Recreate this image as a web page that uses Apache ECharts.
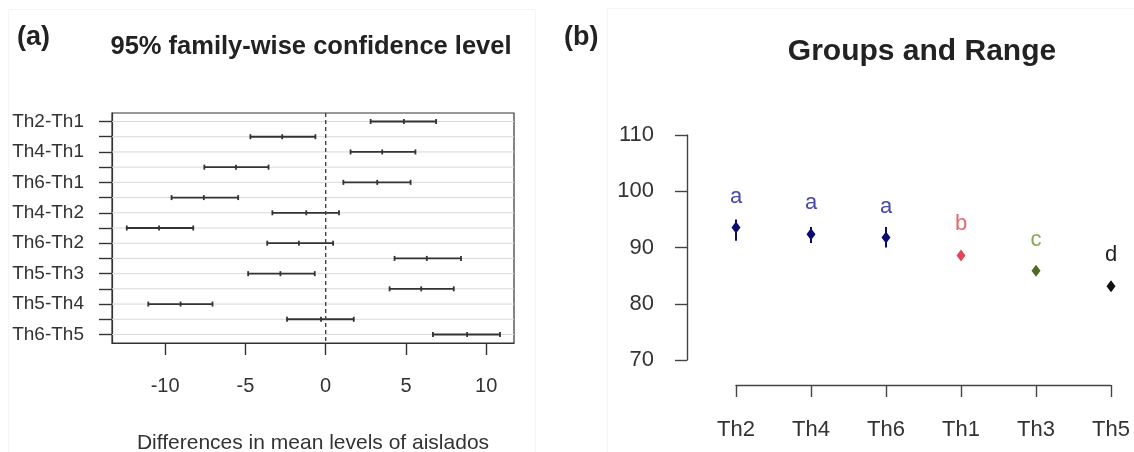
<!DOCTYPE html>
<html><head><meta charset="utf-8">
<script src="https://cdn.jsdelivr.net/npm/echarts@6/dist/echarts.min.js"></script>
<style>html,body{margin:0;padding:0;background:#fff}#c{width:1134px;height:452px}</style>
</head><body><div id="c"></div>
<script>
// ---- Panel (a): Tukey HSD 95% family-wise intervals ----
const comparisons = ['Th2-Th1','Th3-Th1','Th4-Th1','Th5-Th1','Th6-Th1','Th3-Th2','Th4-Th2','Th5-Th2','Th6-Th2','Th4-Th3','Th5-Th3','Th6-Th3','Th5-Th4','Th6-Th4','Th6-Th5'];
const diffLwr  = [2.80, -4.69, 1.55, -7.56, 1.10, -9.60, -3.32, -12.39, -3.64, 4.29, -4.83, 3.98, -11.05, -2.41, 6.68];
const diffMean = [4.87, -2.71, 3.52, -5.59, 3.21, -7.59, -1.21, -10.38, -1.67, 6.30, -2.82, 5.95, -9.04, -0.29, 8.81];
const diffUpr  = [6.88, -0.64, 5.59, -3.56, 5.29, -5.45, 0.83, -8.25, 0.46, 8.43, -0.68, 7.98, -7.05, 1.75, 10.86];
const diffTicks = [-10, -5, 0, 5, 10];
const zeroLine = [0];

// ---- Panel (b): Groups and Range ----
const groups = ['Th2','Th4','Th6','Th1','Th3','Th5'];
const groupMean = [93.55, 92.36, 91.78, 88.6, 85.85, 83.1];
const groupLow  = [91.2, 90.82, 90.0, 88.2, 85.4, 82.8];
const groupHigh = [95.0, 93.66, 93.66, 89.0, 86.3, 83.4];
const groupLetters = ['a','a','a','b','c','d'];
const rangeTicks = [70, 80, 90, 100, 110];

// styles (kept apart from the data)
const FONT = '"Liberation Sans", Arial, sans-serif';
const pointColors  = ['#0c0c70','#0c0c70','#0c0c70','#e0475a','#4f6b1f','#111111'];
const letterColors = ['#4848a6','#4848a6','#4848a6','#e46a6a','#8aa84e','#222222'];

const rowIdx = comparisons.map((_, i) => i + 1);
const oddRows = rowIdx.filter(r => r % 2 === 1);

const chart = echarts.init(document.getElementById('c'), null, {renderer: 'canvas'});

const option = {
  backgroundColor: '#ffffff',
  animation: false,
  textStyle: {fontFamily: FONT},
  grid: [
    {left: 112, top: 113, width: 402, height: 230, show: true, borderColor: '#333', borderWidth: 1.2, backgroundColor: 'transparent'},
    {left: 736, right: 23, top: 135, bottom: 92}
  ],
  xAxis: [
    {
      type: 'value', gridIndex: 0, min: -13.31, max: 11.73,
      axisLine: {show: true, onZero: false, lineStyle: {color: '#333', width: 1.2}},
      axisTick: {show: true, customValues: diffTicks, length: 12, lineStyle: {color: '#333', width: 1.4}},
      axisLabel: {customValues: diffTicks, margin: 33, fontSize: 20, color: '#333', fontFamily: FONT},
      splitLine: {show: false}
    },
    {
      type: 'category', gridIndex: 1, data: groups, boundaryGap: false, offset: 25,
      axisLine: {show: true, onZero: false, lineStyle: {color: '#444', width: 1.4}},
      axisTick: {show: true, length: 12, alignWithLabel: true, lineStyle: {color: '#444', width: 1.4}},
      axisLabel: {margin: 34, fontSize: 22, color: '#333', fontFamily: FONT, interval: 0},
      splitLine: {show: false}
    }
  ],
  yAxis: [
    {
      type: 'value', gridIndex: 0, inverse: true, min: 0.44, max: 15.56,
      axisLine: {show: true, onZero: false, lineStyle: {color: '#333', width: 1.2}},
      axisTick: {show: true, customValues: rowIdx, length: 13, lineStyle: {color: '#333', width: 1.4}},
      axisLabel: {customValues: oddRows, margin: 28, fontSize: 19, color: '#333', fontFamily: FONT,
        formatter: v => comparisons[Math.round(v) - 1]},
      splitLine: {show: false}
    },
    {
      type: 'value', gridIndex: 1, min: 70, max: 110, interval: 10, offset: 49,
      axisLine: {show: true, onZero: false, lineStyle: {color: '#444', width: 1.4}},
      axisTick: {show: true, length: 12, lineStyle: {color: '#444', width: 1.4}},
      axisLabel: {margin: 33, fontSize: 22, color: '#333', fontFamily: FONT},
      splitLine: {show: false}
    }
  ],
  graphic: [
    {type: 'rect', shape: {x: 8.5, y: 9.5, width: 527, height: 480}, style: {fill: 'none', stroke: '#f5f5f5', lineWidth: 1}, silent: true, z: -10},
    {type: 'rect', shape: {x: 607.5, y: 8.5, width: 540, height: 480}, style: {fill: 'none', stroke: '#f5f5f5', lineWidth: 1}, silent: true, z: -10},
    {type: 'text', left: 17, top: 24, style: {text: '(a)', font: 'bold 27px ' + FONT, fill: '#222'}},
    {type: 'text', x: 311, y: 47, style: {text: '95% family-wise confidence level', font: 'bold 25.5px ' + FONT, fill: '#222', align: 'center', verticalAlign: 'middle'}},
    {type: 'text', x: 313, y: 443, style: {text: 'Differences in mean levels of aislados', font: '21px ' + FONT, fill: '#333', align: 'center', verticalAlign: 'middle'}},
    {type: 'text', left: 564, top: 24, style: {text: '(b)', font: 'bold 27px ' + FONT, fill: '#222'}},
    {type: 'text', x: 922, y: 52, style: {text: 'Groups and Range', font: 'bold 30px ' + FONT, fill: '#222', align: 'center', verticalAlign: 'middle'}}
  ],
  series: [
    {
      type: 'custom', xAxisIndex: 0, yAxisIndex: 0,
      data: comparisons.map((c, i) => [i + 1, diffLwr[i], diffMean[i], diffUpr[i]]),
      renderItem: function (params, api) {
        const row = api.value(0);
        const y = api.coord([0, row])[1];
        const xl = api.coord([api.value(1), row])[0];
        const xm = api.coord([api.value(2), row])[0];
        const xu = api.coord([api.value(3), row])[0];
        const cs = params.coordSys;
        const dark = {stroke: '#333', lineWidth: 1.8};
        const tk = 2.5;
        return {type: 'group', children: [
          {type: 'line', z2: 1, shape: {x1: cs.x, y1: y, x2: cs.x + cs.width, y2: y}, style: {stroke: '#d8d8d8', lineWidth: 1}},
          {type: 'line', z2: 5, shape: {x1: xl, y1: y, x2: xu, y2: y}, style: dark},
          {type: 'line', z2: 5, shape: {x1: xl, y1: y - tk, x2: xl, y2: y + tk}, style: dark},
          {type: 'line', z2: 5, shape: {x1: xm, y1: y - tk, x2: xm, y2: y + tk}, style: dark},
          {type: 'line', z2: 5, shape: {x1: xu, y1: y - tk, x2: xu, y2: y + tk}, style: dark}
        ]};
      },
      z: 3
    },
    {
      type: 'custom', xAxisIndex: 0, yAxisIndex: 0,
      data: zeroLine.map(v => [v]),
      renderItem: function (params, api) {
        const cs = params.coordSys;
        const x = api.coord([api.value(0), 1])[0];
        return {type: 'line', shape: {x1: x, y1: cs.y, x2: x, y2: cs.y + cs.height},
          style: {stroke: '#444', lineWidth: 1.4, lineDash: [4, 3]}};
      },
      z: 4
    },
    {
      type: 'custom', xAxisIndex: 1, yAxisIndex: 1,
      data: groups.map((g, i) => [i, groupMean[i], groupLow[i], groupHigh[i]]),
      renderItem: function (params, api) {
        const i = params.dataIndex;
        const x = api.coord([api.value(0), api.value(1)])[0];
        const ym = api.coord([api.value(0), api.value(1)])[1];
        const yl = api.coord([api.value(0), api.value(2)])[1];
        const yh = api.coord([api.value(0), api.value(3)])[1];
        const col = pointColors[i];
        const hw = 4.5, hh = 6;
        return {type: 'group', children: [
          {type: 'line', shape: {x1: x, y1: yh, x2: x, y2: yl}, style: {stroke: col, lineWidth: 2}},
          {type: 'polygon', shape: {points: [[x, ym - hh], [x + hw, ym], [x, ym + hh], [x - hw, ym]]}, style: {fill: col}},
          {type: 'text', x: x, y: ym - 31, style: {text: groupLetters[i], fill: letterColors[i], font: '22px ' + FONT, align: 'center', verticalAlign: 'middle'}}
        ]};
      },
      z: 3
    }
  ]
};
chart.setOption(option);
</script>
</body></html>
